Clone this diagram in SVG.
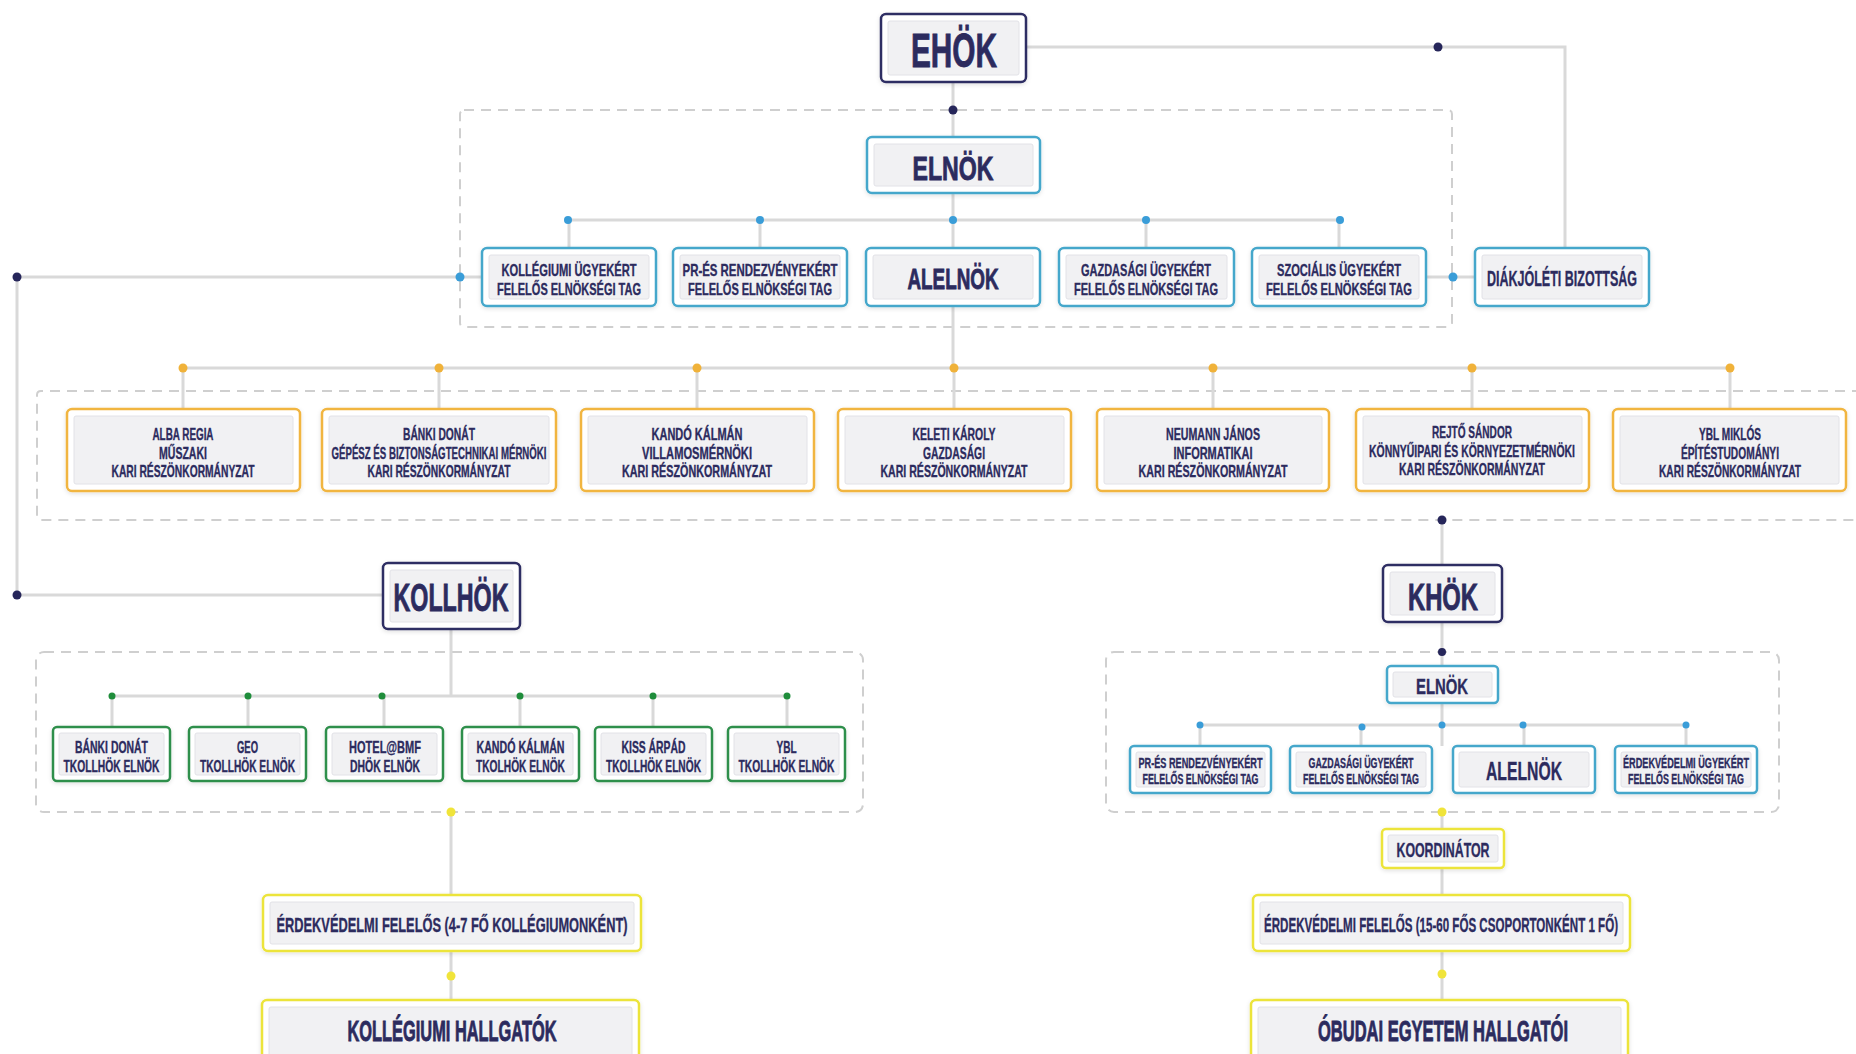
<svg xmlns="http://www.w3.org/2000/svg" width="1856" height="1054" viewBox="0 0 1856 1054">
<defs>
<filter id="sh" x="-10%" y="-10%" width="120%" height="130%">
<feDropShadow dx="0" dy="1.5" stdDeviation="2" flood-color="#000" flood-opacity="0.12"/>
</filter>
</defs>
<style>
.bx{fill:#ffffff;stroke-width:2.5;filter:url(#sh)}
.nv{stroke:#2e2d63}
.tl{stroke:#45a7cb}
.or{stroke:#f1b53f}
.gr{stroke:#2f8f4c}
.yl{stroke:#ece43a}
.in{fill:#f1f1f3;stroke:#e2e2e7;stroke-width:1}
.t{font-family:"Liberation Sans","Roboto","DejaVu Sans",sans-serif;font-weight:700;fill:#2c2b5e;stroke:#2c2b5e;stroke-width:0.35;text-anchor:middle}
.big{stroke-width:0.9}
.ln{stroke:#d9d9d9;stroke-width:3;fill:none}
.ds{stroke:#cfcfcf;stroke-width:2;stroke-dasharray:10 7;fill:none}
.dn{fill:#26265a}
.dt{fill:#3a9dd8}
.do{fill:#f0b23a}
.dg{fill:#1f8d3b}
.dy{fill:#f0e43a}
</style>

<g id="groups">
<rect class="ds" x="460" y="110" width="992" height="217" rx="4"/>
<path class="ds" d="M1862 391 H41 Q37 391 37 395 V516 Q37 520 41 520 H1862"/>
<rect class="ds" x="36" y="652" width="827" height="160" rx="8"/>
<rect class="ds" x="1106" y="652" width="673" height="160" rx="8"/>
</g>

<g id="connectors">
<path class="ln" d="M953 83 V137"/>
<path class="ln" d="M1026 47 H1565 V248"/>
<path class="ln" d="M953 193 V248"/>
<path class="ln" d="M568 220 H1340"/>
<path class="ln" d="M569 220 V248 M760 220 V248 M1146 220 V248 M1339 220 V248"/>
<path class="ln" d="M482 277 H17 V595 H383"/>
<path class="ln" d="M1426 277 H1475"/>
<path class="ln" d="M953 306 V368"/>
<path class="ln" d="M183 368 H1730"/>
<path class="ln" d="M183 368 V409 M439 368 V409 M697 368 V409 M954 368 V409 M1213 368 V409 M1472 368 V409 M1730 368 V409"/>
<path class="ln" d="M1442 520 V565"/>
<path class="ln" d="M1442 622 V666"/>
<path class="ln" d="M1442 703 V746"/>
<path class="ln" d="M1200 725 H1686"/>
<path class="ln" d="M1200 725 V746 M1361 725 V746 M1524 725 V746 M1686 725 V746"/>
<path class="ln" d="M1442 812 V829"/>
<path class="ln" d="M1442 868 V895"/>
<path class="ln" d="M1442 951 V1000"/>
<path class="ln" d="M451 629 V696"/>
<path class="ln" d="M112 696 H787"/>
<path class="ln" d="M112 696 V727 M248 696 V727 M384 696 V727 M520 696 V727 M653 696 V727 M787 696 V727"/>
<path class="ln" d="M451 812 V895"/>
<path class="ln" d="M451 951 V1000"/>

<circle class="dn" cx="953" cy="110" r="4.5"/>
<circle class="dn" cx="1438" cy="47" r="4.5"/>
<circle class="dn" cx="17" cy="277" r="4.5"/>
<circle class="dn" cx="17" cy="595" r="4.5"/>
<circle class="dn" cx="1442" cy="520" r="4.5"/>
<circle class="dn" cx="1442" cy="652" r="4"/>
<circle class="dt" cx="568" cy="220" r="4"/>
<circle class="dt" cx="760" cy="220" r="4"/>
<circle class="dt" cx="953" cy="220" r="4"/>
<circle class="dt" cx="1146" cy="220" r="4"/>
<circle class="dt" cx="1340" cy="220" r="4"/>
<circle class="dt" cx="460" cy="277" r="4.5"/>
<circle class="dt" cx="1453" cy="277" r="4.5"/>
<circle class="do" cx="183" cy="368" r="4.5"/>
<circle class="do" cx="439" cy="368" r="4.5"/>
<circle class="do" cx="697" cy="368" r="4.5"/>
<circle class="do" cx="954" cy="368" r="4.5"/>
<circle class="do" cx="1213" cy="368" r="4.5"/>
<circle class="do" cx="1472" cy="368" r="4.5"/>
<circle class="do" cx="1730" cy="368" r="4.5"/>
<circle class="dt" cx="1200" cy="725" r="3.5"/>
<circle class="dt" cx="1362" cy="727" r="3.5"/>
<circle class="dt" cx="1442" cy="725" r="3.5"/>
<circle class="dt" cx="1523" cy="725" r="3.5"/>
<circle class="dt" cx="1686" cy="725" r="3.5"/>
<circle class="dg" cx="112" cy="696" r="3.5"/>
<circle class="dg" cx="248" cy="696" r="3.5"/>
<circle class="dg" cx="382" cy="696" r="3.5"/>
<circle class="dg" cx="520" cy="696" r="3.5"/>
<circle class="dg" cx="653" cy="696" r="3.5"/>
<circle class="dg" cx="787" cy="696" r="3.5"/>
<circle class="dy" cx="451" cy="812" r="4.5"/>
<circle class="dy" cx="451" cy="976" r="4.5"/>
<circle class="dy" cx="1442" cy="812" r="4.5"/>
<circle class="dy" cx="1442" cy="974" r="4.5"/>
</g>

<g id="ehok">
<rect class="bx nv" x="881" y="14" width="145" height="68" rx="5"/>
<rect class="in" x="888" y="21" width="131" height="54" rx="2"/>
<text class="t big" x="954" y="67" font-size="48" textLength="86" lengthAdjust="spacingAndGlyphs">EHÖK</text>
</g>

<g id="elnok">
<rect class="bx tl" x="867" y="137" width="173" height="56" rx="5"/>
<rect class="in" x="874" y="144" width="159" height="42" rx="2"/>
<text class="t big" x="953" y="180" font-size="34" textLength="81" lengthAdjust="spacingAndGlyphs">ELNÖK</text>
</g>

<g id="kollegiumi-tag">
<rect class="bx tl" x="482" y="248" width="174" height="58" rx="5"/>
<rect class="in" x="489" y="255" width="160" height="44" rx="2"/>
<text class="t" font-size="17"><tspan x="569" y="276" textLength="135" lengthAdjust="spacingAndGlyphs">KOLLÉGIUMI ÜGYEKÉRT</tspan><tspan x="569" y="295" textLength="144" lengthAdjust="spacingAndGlyphs">FELELŐS ELNÖKSÉGI TAG</tspan></text>
</g>

<g id="pr-tag">
<rect class="bx tl" x="673" y="248" width="174" height="58" rx="5"/>
<rect class="in" x="680" y="255" width="160" height="44" rx="2"/>
<text class="t" font-size="17"><tspan x="760" y="276" textLength="155" lengthAdjust="spacingAndGlyphs">PR-ÉS RENDEZVÉNYEKÉRT</tspan><tspan x="760" y="295" textLength="144" lengthAdjust="spacingAndGlyphs">FELELŐS ELNÖKSÉGI TAG</tspan></text>
</g>

<g id="alelnok">
<rect class="bx tl" x="866" y="248" width="174" height="58" rx="5"/>
<rect class="in" x="873" y="255" width="160" height="44" rx="2"/>
<text class="t big" x="953" y="289" font-size="30" textLength="91" lengthAdjust="spacingAndGlyphs">ALELNÖK</text>
</g>

<g id="gazdasagi-tag">
<rect class="bx tl" x="1059" y="248" width="175" height="58" rx="5"/>
<rect class="in" x="1066" y="255" width="161" height="44" rx="2"/>
<text class="t" font-size="17"><tspan x="1146" y="276" textLength="130" lengthAdjust="spacingAndGlyphs">GAZDASÁGI ÜGYEKÉRT</tspan><tspan x="1146" y="295" textLength="144" lengthAdjust="spacingAndGlyphs">FELELŐS ELNÖKSÉGI TAG</tspan></text>
</g>

<g id="szocialis-tag">
<rect class="bx tl" x="1252" y="248" width="174" height="58" rx="5"/>
<rect class="in" x="1259" y="255" width="160" height="44" rx="2"/>
<text class="t" font-size="17"><tspan x="1339" y="276" textLength="124" lengthAdjust="spacingAndGlyphs">SZOCIÁLIS ÜGYEKÉRT</tspan><tspan x="1339" y="295" textLength="146" lengthAdjust="spacingAndGlyphs">FELELŐS ELNÖKSÉGI TAG</tspan></text>
</g>

<g id="diakjoleti">
<rect class="bx tl" x="1475" y="248" width="174" height="58" rx="5"/>
<rect class="in" x="1482" y="255" width="160" height="44" rx="2"/>
<text class="t" x="1562" y="286" font-size="22" textLength="150" lengthAdjust="spacingAndGlyphs">DIÁKJÓLÉTI BIZOTTSÁG</text>
</g>

<g id="alba-regia">
<rect class="bx or" x="67" y="409" width="233" height="82" rx="5"/>
<rect class="in" x="74" y="416" width="219" height="68" rx="2"/>
<text class="t" font-size="16.5"><tspan x="183" y="440" textLength="61" lengthAdjust="spacingAndGlyphs">ALBA REGIA</tspan><tspan x="183" y="458.5" textLength="48" lengthAdjust="spacingAndGlyphs">MŰSZAKI</tspan><tspan x="183" y="477" textLength="143" lengthAdjust="spacingAndGlyphs">KARI RÉSZÖNKORMÁNYZAT</tspan></text>
</g>

<g id="banki">
<rect class="bx or" x="322" y="409" width="234" height="82" rx="5"/>
<rect class="in" x="329" y="416" width="220" height="68" rx="2"/>
<text class="t" font-size="16.5"><tspan x="439" y="440" textLength="72" lengthAdjust="spacingAndGlyphs">BÁNKI DONÁT</tspan><tspan x="439" y="458.5" textLength="215" lengthAdjust="spacingAndGlyphs">GÉPÉSZ ÉS BIZTONSÁGTECHNIKAI MÉRNÖKI</tspan><tspan x="439" y="477" textLength="143" lengthAdjust="spacingAndGlyphs">KARI RÉSZÖNKORMÁNYZAT</tspan></text>
</g>

<g id="kando">
<rect class="bx or" x="581" y="409" width="233" height="82" rx="5"/>
<rect class="in" x="588" y="416" width="219" height="68" rx="2"/>
<text class="t" font-size="16.5"><tspan x="697" y="440" textLength="91" lengthAdjust="spacingAndGlyphs">KANDÓ KÁLMÁN</tspan><tspan x="697" y="458.5" textLength="110" lengthAdjust="spacingAndGlyphs">VILLAMOSMÉRNÖKI</tspan><tspan x="697" y="477" textLength="150" lengthAdjust="spacingAndGlyphs">KARI RÉSZÖNKORMÁNYZAT</tspan></text>
</g>

<g id="keleti">
<rect class="bx or" x="838" y="409" width="233" height="82" rx="5"/>
<rect class="in" x="845" y="416" width="219" height="68" rx="2"/>
<text class="t" font-size="16.5"><tspan x="954" y="440" textLength="83" lengthAdjust="spacingAndGlyphs">KELETI KÁROLY</tspan><tspan x="954" y="458.5" textLength="62" lengthAdjust="spacingAndGlyphs">GAZDASÁGI</tspan><tspan x="954" y="477" textLength="147" lengthAdjust="spacingAndGlyphs">KARI RÉSZÖNKORMÁNYZAT</tspan></text>
</g>

<g id="neumann">
<rect class="bx or" x="1097" y="409" width="232" height="82" rx="5"/>
<rect class="in" x="1104" y="416" width="218" height="68" rx="2"/>
<text class="t" font-size="16.5"><tspan x="1213" y="440" textLength="94" lengthAdjust="spacingAndGlyphs">NEUMANN JÁNOS</tspan><tspan x="1213" y="458.5" textLength="79" lengthAdjust="spacingAndGlyphs">INFORMATIKAI</tspan><tspan x="1213" y="477" textLength="149" lengthAdjust="spacingAndGlyphs">KARI RÉSZÖNKORMÁNYZAT</tspan></text>
</g>

<g id="rejto">
<rect class="bx or" x="1356" y="409" width="233" height="82" rx="5"/>
<rect class="in" x="1363" y="416" width="219" height="68" rx="2"/>
<text class="t" font-size="16.5"><tspan x="1472" y="438" textLength="80" lengthAdjust="spacingAndGlyphs">REJTŐ SÁNDOR</tspan><tspan x="1472" y="456.5" textLength="206" lengthAdjust="spacingAndGlyphs">KÖNNYŰIPARI ÉS KÖRNYEZETMÉRNÖKI</tspan><tspan x="1472" y="475" textLength="146" lengthAdjust="spacingAndGlyphs">KARI RÉSZÖNKORMÁNYZAT</tspan></text>
</g>

<g id="ybl">
<rect class="bx or" x="1613" y="409" width="233" height="82" rx="5"/>
<rect class="in" x="1620" y="416" width="219" height="68" rx="2"/>
<text class="t" font-size="16.5"><tspan x="1730" y="440" textLength="62" lengthAdjust="spacingAndGlyphs">YBL MIKLÓS</tspan><tspan x="1730" y="458.5" textLength="98" lengthAdjust="spacingAndGlyphs">ÉPÍTÉSTUDOMÁNYI</tspan><tspan x="1730" y="477" textLength="142" lengthAdjust="spacingAndGlyphs">KARI RÉSZÖNKORMÁNYZAT</tspan></text>
</g>

<g id="kollhok">
<rect class="bx nv" x="383" y="563" width="137" height="66" rx="5"/>
<rect class="in" x="390" y="570" width="123" height="52" rx="2"/>
<text class="t big" x="451" y="611" font-size="38" textLength="115" lengthAdjust="spacingAndGlyphs">KOLLHÖK</text>
</g>

<g id="kollhok-banki">
<rect class="bx gr" x="53" y="727" width="117" height="54" rx="4"/>
<rect class="in" x="59" y="733" width="105" height="42" rx="2"/>
<text class="t" font-size="16.5"><tspan x="111.5" y="753" textLength="73" lengthAdjust="spacingAndGlyphs">BÁNKI DONÁT</tspan><tspan x="111.5" y="772" textLength="96" lengthAdjust="spacingAndGlyphs">TKOLLHÖK ELNÖK</tspan></text>
</g>

<g id="kollhok-geo">
<rect class="bx gr" x="189" y="727" width="117" height="54" rx="4"/>
<rect class="in" x="195" y="733" width="105" height="42" rx="2"/>
<text class="t" font-size="16.5"><tspan x="247.5" y="753" textLength="21" lengthAdjust="spacingAndGlyphs">GEO</tspan><tspan x="247.5" y="772" textLength="95" lengthAdjust="spacingAndGlyphs">TKOLLHÖK ELNÖK</tspan></text>
</g>

<g id="kollhok-hotel">
<rect class="bx gr" x="326" y="727" width="117" height="54" rx="4"/>
<rect class="in" x="332" y="733" width="105" height="42" rx="2"/>
<text class="t" font-size="16.5"><tspan x="385" y="753" textLength="72" lengthAdjust="spacingAndGlyphs">HOTEL@BMF</tspan><tspan x="385" y="772" textLength="70" lengthAdjust="spacingAndGlyphs">DHÖK ELNÖK</tspan></text>
</g>

<g id="kollhok-kando">
<rect class="bx gr" x="462" y="727" width="117" height="54" rx="4"/>
<rect class="in" x="468" y="733" width="105" height="42" rx="2"/>
<text class="t" font-size="16.5"><tspan x="520.5" y="753" textLength="88" lengthAdjust="spacingAndGlyphs">KANDÓ KÁLMÁN</tspan><tspan x="520.5" y="772" textLength="89" lengthAdjust="spacingAndGlyphs">TKOLHÖK ELNÖK</tspan></text>
</g>

<g id="kollhok-kiss">
<rect class="bx gr" x="595" y="727" width="117" height="54" rx="4"/>
<rect class="in" x="601" y="733" width="105" height="42" rx="2"/>
<text class="t" font-size="16.5"><tspan x="653.5" y="753" textLength="64" lengthAdjust="spacingAndGlyphs">KISS ÁRPÁD</tspan><tspan x="653.5" y="772" textLength="95" lengthAdjust="spacingAndGlyphs">TKOLLHÖK ELNÖK</tspan></text>
</g>

<g id="kollhok-ybl">
<rect class="bx gr" x="728" y="727" width="117" height="54" rx="4"/>
<rect class="in" x="734" y="733" width="105" height="42" rx="2"/>
<text class="t" font-size="16.5"><tspan x="786.5" y="753" textLength="20" lengthAdjust="spacingAndGlyphs">YBL</tspan><tspan x="786.5" y="772" textLength="96" lengthAdjust="spacingAndGlyphs">TKOLLHÖK ELNÖK</tspan></text>
</g>

<g id="erdekvedelmi-koll">
<rect class="bx yl" x="263" y="895" width="378" height="56" rx="5"/>
<rect class="in" x="270" y="902" width="364" height="42" rx="2"/>
<text class="t" x="452" y="932" font-size="20" textLength="351" lengthAdjust="spacingAndGlyphs">ÉRDEKVÉDELMI FELELŐS (4-7 FŐ KOLLÉGIUMONKÉNT)</text>
</g>

<g id="kollegiumi-hallgatok">
<rect class="bx yl" x="262" y="1000" width="377" height="70" rx="5"/>
<rect class="in" x="269" y="1007" width="363" height="56" rx="2"/>
<text class="t big" x="452" y="1041" font-size="29" textLength="209" lengthAdjust="spacingAndGlyphs">KOLLÉGIUMI HALLGATÓK</text>
</g>

<g id="khok">
<rect class="bx nv" x="1383" y="565" width="119" height="57" rx="5"/>
<rect class="in" x="1390" y="572" width="105" height="43" rx="2"/>
<text class="t big" x="1443" y="610" font-size="37" textLength="70" lengthAdjust="spacingAndGlyphs">KHÖK</text>
</g>

<g id="khok-elnok">
<rect class="bx tl" x="1387" y="666" width="111" height="37" rx="4"/>
<rect class="in" x="1393" y="672" width="99" height="25" rx="2"/>
<text class="t" x="1442" y="694" font-size="22" textLength="52" lengthAdjust="spacingAndGlyphs">ELNÖK</text>
</g>

<g id="khok-pr">
<rect class="bx tl" x="1130" y="746" width="141" height="47" rx="4"/>
<rect class="in" x="1136" y="752" width="129" height="35" rx="2"/>
<text class="t" font-size="14.5"><tspan x="1200.5" y="768" textLength="124" lengthAdjust="spacingAndGlyphs">PR-ÉS RENDEZVÉNYEKÉRT</tspan><tspan x="1200.5" y="783.5" textLength="116" lengthAdjust="spacingAndGlyphs">FELELŐS ELNÖKSÉGI TAG</tspan></text>
</g>

<g id="khok-gazdasagi">
<rect class="bx tl" x="1290" y="746" width="142" height="47" rx="4"/>
<rect class="in" x="1296" y="752" width="130" height="35" rx="2"/>
<text class="t" font-size="14.5"><tspan x="1361" y="768" textLength="105" lengthAdjust="spacingAndGlyphs">GAZDASÁGI ÜGYEKÉRT</tspan><tspan x="1361" y="783.5" textLength="116" lengthAdjust="spacingAndGlyphs">FELELŐS ELNÖKSÉGI TAG</tspan></text>
</g>

<g id="khok-alelnok">
<rect class="bx tl" x="1453" y="746" width="142" height="47" rx="4"/>
<rect class="in" x="1459" y="752" width="130" height="35" rx="2"/>
<text class="t" x="1524" y="780" font-size="25" textLength="76" lengthAdjust="spacingAndGlyphs">ALELNÖK</text>
</g>

<g id="khok-erdekvedelmi">
<rect class="bx tl" x="1615" y="746" width="142" height="47" rx="4"/>
<rect class="in" x="1621" y="752" width="130" height="35" rx="2"/>
<text class="t" font-size="14.5"><tspan x="1686" y="768" textLength="126" lengthAdjust="spacingAndGlyphs">ÉRDEKVÉDELMI ÜGYEKÉRT</tspan><tspan x="1686" y="783.5" textLength="116" lengthAdjust="spacingAndGlyphs">FELELŐS ELNÖKSÉGI TAG</tspan></text>
</g>

<g id="koordinator">
<rect class="bx yl" x="1382" y="829" width="122" height="39" rx="4"/>
<rect class="in" x="1388" y="835" width="110" height="27" rx="2"/>
<text class="t" x="1443" y="857" font-size="20" textLength="93" lengthAdjust="spacingAndGlyphs">KOORDINÁTOR</text>
</g>

<g id="erdekvedelmi-khok">
<rect class="bx yl" x="1253" y="895" width="377" height="56" rx="5"/>
<rect class="in" x="1260" y="902" width="363" height="42" rx="2"/>
<text class="t" x="1441" y="932" font-size="20" textLength="354" lengthAdjust="spacingAndGlyphs">ÉRDEKVÉDELMI FELELŐS (15-60 FŐS CSOPORTONKÉNT 1 FŐ)</text>
</g>

<g id="obudai-hallgatoi">
<rect class="bx yl" x="1251" y="1000" width="377" height="70" rx="5"/>
<rect class="in" x="1258" y="1007" width="363" height="56" rx="2"/>
<text class="t big" x="1443" y="1041" font-size="29" textLength="250" lengthAdjust="spacingAndGlyphs">ÓBUDAI EGYETEM HALLGATÓI</text>
</g>
</svg>
